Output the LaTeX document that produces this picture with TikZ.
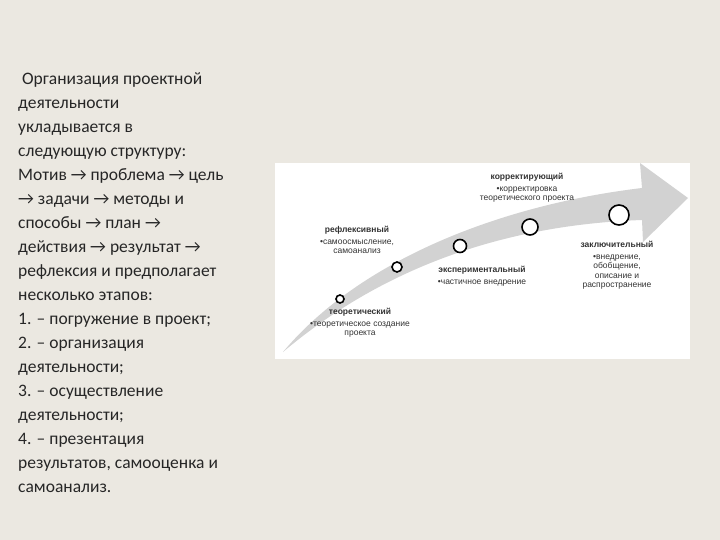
\documentclass[tikz,border=0pt]{standalone}
\usepackage{fontspec}
\setmainfont{Carlito}
\newfontfamily\smallsans{Liberation Sans}
\begin{document}
\begin{tikzpicture}[x=1pt,y=-1pt,
 stg/.style={font=\smallsans\fontsize{8.5}{9.5}\selectfont,align=center,inner sep=0,text=black!80},
 dot/.style={circle,draw=black,line width=1.6pt,fill=white,inner sep=0}]
\fill[fill={rgb,255:red,235;green,232;blue,225}] (0,0) rectangle (720,540);
\useasboundingbox (0,0) rectangle (720,540);
\fill[white] (275,163) rectangle (690,359);
\fill[gray!35] (283,352) .. controls (360,260) and (500,205) .. (642,188)
 -- (640,163) -- (688,198) -- (643,242) -- (642,220)
 .. controls (500,225) and (380,270) .. (283,352) -- cycle;
\node[dot,minimum size=8pt] (c1) at (340,299) {};
\node[dot,minimum size=10pt] (c2) at (397,267) {};
\node[dot,minimum size=13pt] (c3) at (460,246) {};
\node[dot,minimum size=16pt] (c4) at (530,227) {};
\node[dot,minimum size=20pt] (c5) at (619,215) {};
\node[stg,anchor=north] (t1) at (360,308) {\textbf{теоретический}\\[2pt]•теоретическое создание\\проекта};
\node[stg,anchor=north] (t2) at (357,226) {\textbf{рефлексивный}\\[2pt]•самоосмысление,\\самоанализ};
\node[stg,anchor=north] (t3) at (482,266) {\textbf{экспериментальный}\\[2pt]•частичное внедрение};
\node[stg,anchor=north] (t4) at (527,173) {\textbf{корректирующий}\\[2pt]•корректировка\\теоретического проекта};
\node[stg,anchor=north] (t5) at (617,241) {\textbf{заключительный}\\[2pt]•внедрение,\\обобщение,\\описание и\\распространение};
\node[anchor=north west,align=left,inner sep=0,text=black!85,font=\fontsize{17.5}{24}\selectfont] (txt) at (18,72) {
\ Организация проектной\\деятельности\\укладывается в\\следующую структуру:\\Мотив → проблема → цель\\→ задачи → методы и\\способы → план →\\действия → результат →\\рефлексия и предполагает\\несколько этапов:\\1. – погружение в проект;\\2. – организация\\деятельности;\\3. – осуществление\\деятельности;\\4. – презентация\\результатов, самооценка и\\самоанализ.};
\end{tikzpicture}
\end{document}
